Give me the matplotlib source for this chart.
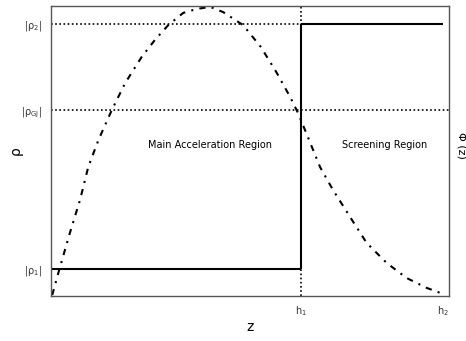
import matplotlib.pyplot as plt

# positions along z (h2 = 1)
h1 = 0.638
h2 = 1.0

# density levels
rho_1 = 0.093
rho_gj = 0.641
rho_2 = 0.938

# potential curve
phi_z = [0.003, 0.023, 0.048, 0.074, 0.095, 0.121, 0.155, 0.189, 0.231, 0.265,
         0.299, 0.337, 0.372, 0.406, 0.439, 0.490, 0.535, 0.576, 0.610, 0.630,
         0.656, 0.686, 0.719, 0.763, 0.805, 0.856, 0.907, 0.958, 1.0]
phi_val = [0.003, 0.100, 0.217, 0.331, 0.445, 0.538, 0.641, 0.734, 0.824, 0.883,
           0.934, 0.976, 0.990, 0.997, 0.979, 0.934, 0.859, 0.769, 0.686, 0.631,
           0.545, 0.445, 0.366, 0.272, 0.183, 0.114, 0.062, 0.028, 0.007]

plt.rcParams["mathtext.fontset"] = "dejavusans"

fig = plt.figure(figsize=(4.66, 3.41), dpi=100)
ax = fig.add_axes([51 / 466, 45 / 341, 398 / 466, 290 / 341])

# step profile of rho
ax.plot([0, h1], [rho_1, rho_1], color="black", lw=1.5, solid_capstyle="butt")
ax.plot([h1, h1], [rho_1, rho_2], color="black", lw=1.5, solid_capstyle="butt")
ax.plot([h1, h2], [rho_2, rho_2], color="black", lw=1.5, solid_capstyle="butt")

# reference levels
ax.plot([0, h1], [rho_2, rho_2], color="black", lw=1.2, ls=(0, (1, 1.5)))
ax.plot([0, 1.015], [rho_gj, rho_gj], color="black", lw=1.2, ls=(0, (1, 1.5)))
ax.plot([h1, h1], [0, 1], color="black", lw=1.2, ls=(0, (1, 1.5)))

# potential
ax.plot(phi_z, phi_val, color="black", lw=1.5, ls=(0, (3, 3, 1, 3)))

ax.text(0.405, 0.52, "Main Acceleration Region", fontsize=7, ha="center", va="center")
ax.text(0.85, 0.52, "Screening Region", fontsize=7, ha="center", va="center")

ax.set_xlim(0, 1.015)
ax.set_ylim(0, 1)
ax.set_xticks([h1, h2])
ax.set_xticklabels([r"h$_1$", r"h$_2$"], fontsize=7, color="#333333")
ax.set_yticks([rho_1, rho_gj, rho_2])
ax.set_yticklabels([r"|ρ$_1$|", r"|ρ$_{\rm GJ}$|", r"|ρ$_2$|"], fontsize=7, color="#333333")
ax.tick_params(length=0, pad=6)

ax.set_xlabel("z", fontsize=10)
ax.set_ylabel("ρ", fontsize=10)
ax.xaxis.set_label_coords(0.5, -0.107)
ax.yaxis.set_label_coords(-0.088, 0.5)
ax.xaxis.label.set_va("center")
ax.yaxis.label.set_va("center")
ax.text(1.02, 0.52, "Φ (z)", fontsize=8, rotation=-90, ha="left", va="center",
        transform=ax.transAxes)

for s in ax.spines.values():
    s.set_color("#555555")
    s.set_linewidth(1.0)

fig.savefig("out.png", dpi=100)
